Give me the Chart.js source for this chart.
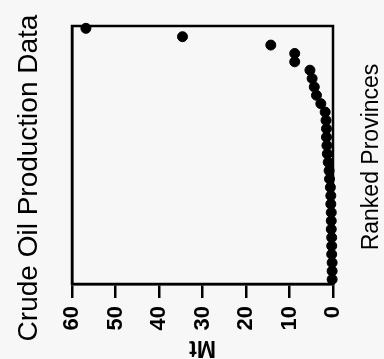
<!DOCTYPE html>
<html>
<head>
<meta charset="utf-8">
<script src="https://cdn.jsdelivr.net/npm/chart.js@4/dist/chart.umd.min.js"></script>
<style>
  html, body { margin: 0; padding: 0; background: #f7f7f7; }
  #wrap { width: 384px; height: 359px; }
</style>
</head>
<body>
<div id="wrap"><canvas id="chart" width="384" height="359"></canvas></div>
<script>
// ranked provinces, production in Mt
const ranks = [1, 2, 3, 4, 5, 6, 7, 8, 9, 10, 11, 12, 13, 14, 15, 16, 17, 18, 19, 20,
    21, 22, 23, 24, 25, 26, 27, 28, 29, 30, 31];
const production = [56.8, 34.6, 14.3, 8.8, 8.8, 5.3, 4.8, 4.3, 3.8, 2.8, 1.8, 1.6, 1.5, 1.5, 1.4, 1.3,
    1.1, 0.9, 0.8, 0.6, 0.5, 0.5, 0.4, 0.4, 0.4, 0.3, 0.3, 0.3, 0.2, 0.2, 0.2];
const mtTicks = [60, 50, 40, 30, 20, 10, 0];

const titleText = 'Crude Oil Production Data';
const xTitle = 'Mt';
const yTitle = 'Ranked Provinces';

const points = ranks.map((r, i) => ({ x: production[i], y: r }));

const textPlugin = {
    id: 'rotatedTexts',
    afterDraw: (chart) => {
        const { ctx, chartArea } = chart;
        ctx.save();
        // frame round the plot
        ctx.strokeStyle = '#000';
        ctx.lineWidth = 2.5;
        ctx.strokeRect(chartArea.left, chartArea.top, chartArea.right - chartArea.left, chartArea.bottom - chartArea.top);

        ctx.fillStyle = '#000';
        ctx.textAlign = 'center';
        ctx.textBaseline = 'alphabetic';

        ctx.save();
        ctx.font = '28px "Liberation Sans", Arial, sans-serif';
        ctx.translate(37, 178);
        ctx.rotate(-Math.PI / 2);
        ctx.fillText(titleText, 0, 0);
        ctx.restore();

        ctx.save();
        ctx.font = '23px "Liberation Sans", Arial, sans-serif';
        ctx.translate(378, 157);
        ctx.rotate(-Math.PI / 2);
        ctx.fillText(yTitle, 0, 0);
        ctx.restore();

        ctx.save();
        ctx.font = 'bold 23px "Liberation Sans", Arial, sans-serif';
        ctx.translate((chartArea.left + chartArea.right) / 2, 341);
        ctx.rotate(Math.PI);
        ctx.fillText(xTitle, 0, 0);
        ctx.restore();

        ctx.restore();
    },
};

new Chart(document.getElementById('chart').getContext('2d'), {
    type: 'scatter',
    data: {
        datasets: [
            {
                data: points,
                backgroundColor: '#000',
                borderColor: '#000',
                pointRadius: 5,
                pointHoverRadius: 5,
                clip: false,
            },
        ],
    },
    options: {
        responsive: false,
        animation: false,
        layout: { padding: { top: 26, right: 51, bottom: 0, left: 0 } },
        plugins: {
            legend: { display: false },
            tooltip: { enabled: false },
            title: { display: false },
        },
        scales: {
            x: {
                type: 'linear',
                position: 'bottom',
                reverse: true,
                min: 0,
                max: 60,
                afterBuildTicks: (scale) => {
                    scale.ticks = mtTicks.map((v) => ({ value: v }));
                },
                afterFit: (scale) => {
                    scale.height = 75;
                },
                ticks: {
                    color: '#000',
                    font: { family: '"Liberation Sans", Arial, sans-serif', size: 22, weight: 'bold' },
                    minRotation: 90,
                    maxRotation: 90,
                    padding: 8,
                },
                grid: {
                    drawOnChartArea: false,
                    color: '#000',
                    lineWidth: 2.5,
                    tickLength: 14,
                },
                border: { color: '#000', width: 2.5 },
            },
            y: {
                type: 'linear',
                position: 'left',
                reverse: true,
                min: 0.72,
                max: 31.55,
                afterFit: (scale) => {
                    scale.width = 72;
                },
                ticks: { display: false },
                grid: { display: false },
                border: { color: '#000', width: 2.5 },
            },
        },
    },
    plugins: [textPlugin],
});
</script>
</body>
</html>
